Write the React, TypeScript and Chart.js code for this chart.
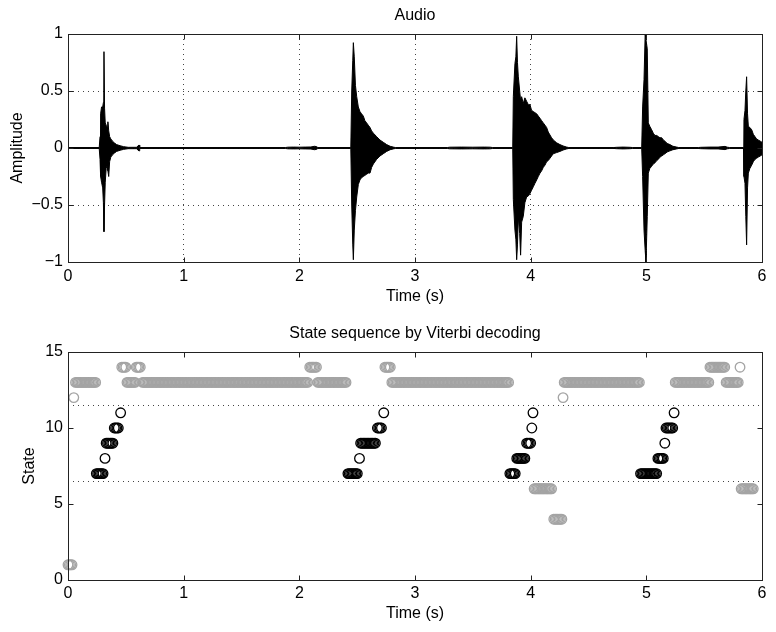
import React, { useEffect, useRef } from 'react';
import { Chart, registerables } from 'chart.js';

Chart.register(...registerables);

// ---------- axis ticks ----------
const timeTicks = [0, 1, 2, 3, 4, 5, 6];
const amplitudeTicks = [-1, -0.5, 0, 0.5, 1];
const stateTicks = [0, 5, 10, 15];
const stateBoundaries = [6.5, 11.5];

// ---------- audio waveform envelope ----------
const envTime = [
  0, 0.27, 0.277, 0.282, 0.29, 0.30, 0.306, 0.311, 0.316, 0.322, 0.33, 0.338, 0.345, 0.352, 0.36, 0.37, 0.385, 0.40, 0.42, 0.45, 0.48, 0.52, 0.595, 0.605, 0.615, 0.62,
  1.88, 1.90, 1.95, 2.00, 2.05, 2.10, 2.13, 2.15, 2.16,
  2.445, 2.453, 2.462, 2.467, 2.475, 2.485, 2.496, 2.51, 2.524, 2.538, 2.553, 2.567, 2.582, 2.596, 2.611, 2.625, 2.64, 2.668, 2.697, 2.726, 2.755, 2.785, 2.812, 2.83,
  3.28, 3.30, 3.40, 3.50, 3.60, 3.65, 3.67,
  3.845, 3.85, 3.864, 3.872, 3.879, 3.886, 3.893, 3.905, 3.913, 3.922, 3.936, 3.95, 3.965, 3.98, 3.994, 4.008, 4.023, 4.037, 4.052, 4.066, 4.081, 4.095, 4.109, 4.124, 4.138, 4.152, 4.167, 4.181, 4.196, 4.225, 4.253, 4.28, 4.311, 4.33,
  4.72, 4.74, 4.80, 4.86, 4.88,
  4.96, 4.968, 4.98, 4.99, 4.997, 5.008, 5.017, 5.03, 5.046, 5.06, 5.075, 5.09, 5.103, 5.118, 5.133, 5.147, 5.161, 5.18, 5.204, 5.23, 5.262, 5.28,
  5.45, 5.47, 5.55, 5.62, 5.68, 5.70, 5.72,
  5.84, 5.844, 5.853, 5.86, 5.867, 5.875, 5.882, 5.895, 5.911, 5.925, 5.939, 5.953, 5.968, 5.985, 6.0,
];
const envUpper = [
  0.004, 0.004, 0.10, 0.30, 0.36, 0.36, 0.40, 0.845, 0.35, 0.22, 0.20, 0.18, 0.23, 0.15, 0.10, 0.08, 0.06, 0.045, 0.03, 0.02, 0.012, 0.006, 0.006, 0.02, 0.025, 0.004,
  0.004, 0.007, 0.008, 0.007, 0.008, 0.009, 0.015, 0.012, 0.004,
  0.004, 0.5, 0.77, 0.924, 0.80, 0.55, 0.45, 0.36, 0.32, 0.30, 0.28, 0.24, 0.22, 0.20, 0.18, 0.15, 0.13, 0.10, 0.07, 0.05, 0.03, 0.015, 0.008, 0.004,
  0.004, 0.007, 0.008, 0.007, 0.008, 0.007, 0.004,
  0.004, 0.45, 0.74, 0.80, 0.98, 0.75, 0.63, 0.50, 0.42, 0.45, 0.39, 0.44, 0.41, 0.38, 0.38, 0.33, 0.32, 0.31, 0.30, 0.28, 0.26, 0.24, 0.22, 0.20, 0.18, 0.14, 0.114, 0.09, 0.07, 0.045, 0.03, 0.018, 0.008, 0.004,
  0.004, 0.006, 0.008, 0.006, 0.004,
  0.004, 0.36, 0.60, 1.0, 0.95, 0.87, 0.22, 0.19, 0.16, 0.13, 0.11, 0.11, 0.10, 0.09, 0.09, 0.07, 0.06, 0.04, 0.03, 0.015, 0.008, 0.004,
  0.004, 0.006, 0.008, 0.008, 0.014, 0.007, 0.004,
  0.004, 0.25, 0.33, 0.50, 0.625, 0.30, 0.19, 0.18, 0.16, 0.12, 0.10, 0.08, 0.07, 0.06, 0.05,
];
const envLower = [
  -0.004, -0.004, -0.10, -0.25, -0.30, -0.35, -0.48, -0.734, -0.50, -0.30, -0.18, -0.16, -0.20, -0.25, -0.12, -0.08, -0.06, -0.045, -0.03, -0.02, -0.012, -0.006, -0.006, -0.02, -0.025, -0.004,
  -0.004, -0.007, -0.008, -0.007, -0.008, -0.009, -0.015, -0.012, -0.004,
  -0.004, -0.5, -0.85, -0.98, -0.72, -0.55, -0.43, -0.32, -0.28, -0.26, -0.25, -0.24, -0.23, -0.22, -0.22, -0.17, -0.14, -0.10, -0.07, -0.05, -0.03, -0.015, -0.008, -0.004,
  -0.004, -0.007, -0.008, -0.007, -0.008, -0.007, -0.004,
  -0.004, -0.45, -0.72, -0.80, -0.98, -0.85, -0.60, -0.75, -0.94, -0.65, -0.60, -0.48, -0.43, -0.42, -0.40, -0.37, -0.34, -0.31, -0.28, -0.25, -0.22, -0.20, -0.17, -0.15, -0.12, -0.11, -0.09, -0.07, -0.05, -0.04, -0.03, -0.018, -0.008, -0.004,
  -0.004, -0.006, -0.008, -0.006, -0.004,
  -0.004, -0.25, -0.72, -0.90, -1.0, -0.60, -0.22, -0.18, -0.16, -0.14, -0.13, -0.11, -0.10, -0.08, -0.07, -0.06, -0.05, -0.035, -0.025, -0.015, -0.008, -0.004,
  -0.004, -0.006, -0.008, -0.008, -0.014, -0.007, -0.004,
  -0.004, -0.25, -0.31, -0.60, -0.85, -0.35, -0.22, -0.18, -0.15, -0.12, -0.10, -0.09, -0.08, -0.07, -0.06,
];

// ---------- Viterbi state sequence, as runs (start s, end s, state) ----------
const frameHop = 0.0116;
const runStart = [0.00, 0.05, 0.065, 0.245, 0.32, 0.33, 0.40, 0.455, 0.465, 0.51, 0.59, 0.645, 2.09, 2.16, 2.42, 2.52, 2.53, 2.675, 2.73, 2.74, 2.80, 3.82, 3.88, 3.965, 4.01, 4.02, 4.03, 4.20, 4.28, 4.29, 4.95, 5.10, 5.16, 5.17, 5.24, 5.25, 5.55, 5.69, 5.81, 5.82];
const runEnd = [0.035, 0.05, 0.24, 0.31, 0.32, 0.39, 0.445, 0.455, 0.50, 0.58, 0.63, 2.08, 2.15, 2.41, 2.51, 2.52, 2.665, 2.72, 2.73, 2.79, 3.81, 3.87, 3.955, 4.00, 4.01, 4.02, 4.19, 4.27, 4.28, 4.94, 5.09, 5.15, 5.16, 5.23, 5.24, 5.54, 5.68, 5.80, 5.81, 5.93];
const runState = [1, 12, 13, 7, 8, 9, 10, 11, 14, 13, 14, 13, 14, 13, 7, 8, 9, 10, 11, 14, 13, 7, 8, 9, 10, 11, 6, 4, 12, 13, 7, 8, 9, 10, 11, 13, 14, 13, 14, 6];
const noteStates = [7, 8, 9, 10, 11];

const FONT = "'Liberation Sans', Arial, Helvetica, sans-serif";
const fmt = (v: number) => String(v).replace('-', '\u2212');

function makeFramePlugin(hLines: number[]) {
  return {
    id: 'frame',
    beforeDatasetsDraw(chart: any) {
      const { ctx, chartArea: a } = chart;
      const ys = chart.scales.y;
      ctx.save();
      ctx.strokeStyle = '#444';
      ctx.lineWidth = 1;
      ctx.setLineDash([1, 4]);
      hLines.forEach((v) => {
        const py = Math.round(ys.getPixelForValue(v)) + 0.5;
        ctx.beginPath();
        ctx.moveTo(a.left, py);
        ctx.lineTo(a.right, py);
        ctx.stroke();
      });
      ctx.restore();
    },
    afterDraw(chart: any) {
      const { ctx, chartArea: a } = chart;
      const xs = chart.scales.x;
      const ys = chart.scales.y;
      const L = Math.round(a.left) + 0.5;
      const R = Math.round(a.right) + 0.5;
      const T = Math.round(a.top) + 0.5;
      const B = Math.round(a.bottom) + 0.5;
      const len = 5;
      ctx.save();
      ctx.strokeStyle = '#222';
      ctx.lineWidth = 1;
      ctx.setLineDash([]);
      ctx.strokeRect(L, T, R - L, B - T);
      ctx.beginPath();
      xs.ticks.forEach((t: any) => {
        if (t.value <= xs.min || t.value >= xs.max) return;
        const px = Math.round(xs.getPixelForValue(t.value)) + 0.5;
        ctx.moveTo(px, B);
        ctx.lineTo(px, B - len);
        ctx.moveTo(px, T);
        ctx.lineTo(px, T + len);
      });
      ys.ticks.forEach((t: any) => {
        if (t.value <= ys.min || t.value >= ys.max) return;
        const py = Math.round(ys.getPixelForValue(t.value)) + 0.5;
        ctx.moveTo(L, py);
        ctx.lineTo(L + len, py);
        ctx.moveTo(R, py);
        ctx.lineTo(R - len, py);
      });
      ctx.stroke();
      ctx.restore();
    },
  };
}

function expandRuns(filter: (s: number) => boolean) {
  const pts: { x: number; y: number }[] = [];
  runState.forEach((s, i) => {
    if (!filter(s)) return;
    for (let t = runStart[i]; t <= runEnd[i] + 1e-9; t += frameHop) {
      pts.push({ x: t, y: s });
    }
  });
  return pts;
}

export default function App() {
  const topRef = useRef<HTMLCanvasElement>(null);
  const botRef = useRef<HTMLCanvasElement>(null);

  useEffect(() => {
    document.body.style.margin = '0';
    Chart.defaults.font.family = FONT;
    Chart.defaults.font.size = 16;
    Chart.defaults.color = '#000';

    const edgeTransparent = (min: number, max: number) => (c: any) =>
      c.tick && (c.tick.value <= min || c.tick.value >= max) ? 'rgba(0,0,0,0)' : '#444';

    const top = new Chart(topRef.current as HTMLCanvasElement, {
      type: 'line',
      data: {
        datasets: [
          {
            data: envTime.map((t, i) => ({ x: t, y: envUpper[i] })),
            borderColor: '#000',
            borderWidth: 1,
            pointRadius: 0,
            fill: false,
            tension: 0,
          },
          {
            data: envTime.map((t, i) => ({ x: t, y: envLower[i] })),
            borderColor: '#000',
            borderWidth: 1,
            pointRadius: 0,
            backgroundColor: '#000',
            fill: '-1',
            tension: 0,
          },
        ],
      },
      options: {
        animation: false,
        responsive: false,
        maintainAspectRatio: false,
        devicePixelRatio: 1,
        events: [],
        layout: { padding: { left: 0, right: 14, top: 0, bottom: 0 } },
        plugins: {
          legend: { display: false },
          tooltip: { enabled: false },
          title: {
            display: true,
            text: 'Audio',
            fullSize: false,
            color: '#000',
            font: { size: 16, weight: 'normal', family: FONT },
            padding: { top: 6, bottom: 8.8 },
          },
        },
        scales: {
          x: {
            type: 'linear',
            min: 0,
            max: 6,
            afterBuildTicks: (s: any) => { s.ticks = timeTicks.map((v) => ({ value: v })); },
            afterFit: (s: any) => { s.height = 54; },
            grid: { display: true, drawTicks: false, lineWidth: 1, color: edgeTransparent(0, 6) },
            border: { display: false, dash: [1, 4] },
            ticks: { padding: 5, color: '#000', maxRotation: 0, autoSkip: false, font: { size: 16 }, callback: (v: any) => fmt(v) },
            title: { display: true, text: 'Time (s)', color: '#000', font: { size: 16 }, padding: { top: 0, bottom: 10 } },
          },
          y: {
            type: 'linear',
            min: -1,
            max: 1,
            afterBuildTicks: (s: any) => { s.ticks = amplitudeTicks.map((v) => ({ value: v })); },
            afterFit: (s: any) => { s.width = 68; },
            grid: { display: true, drawTicks: false, lineWidth: 1, color: edgeTransparent(-1, 1) },
            border: { display: false, dash: [1, 4] },
            ticks: { padding: 5, color: '#000', autoSkip: false, font: { size: 16 }, callback: (v: any) => fmt(v) },
            title: { display: true, text: 'Amplitude', color: '#000', font: { size: 16 }, padding: { top: 8, bottom: 0 } },
          },
        },
      } as any,
      plugins: [makeFramePlugin([])],
    });

    const bottom = new Chart(botRef.current as HTMLCanvasElement, {
      type: 'scatter',
      data: {
        datasets: [
          {
            data: expandRuns((s) => !noteStates.includes(s)),
            borderColor: '#a4a4a4',
            backgroundColor: 'rgba(0,0,0,0)',
            pointRadius: 4.8,
            borderWidth: 1.3,
            pointStyle: 'circle',
            clip: false,
          } as any,
          {
            data: expandRuns((s) => noteStates.includes(s)),
            borderColor: '#000',
            backgroundColor: 'rgba(0,0,0,0)',
            pointRadius: 4.8,
            borderWidth: 1.3,
            pointStyle: 'circle',
            clip: false,
          } as any,
        ],
      },
      options: {
        animation: false,
        responsive: false,
        maintainAspectRatio: false,
        devicePixelRatio: 1,
        events: [],
        layout: { padding: { left: 0, right: 14, top: 0, bottom: 0 } },
        plugins: {
          legend: { display: false },
          tooltip: { enabled: false },
          title: {
            display: true,
            text: 'State sequence by Viterbi decoding',
            fullSize: false,
            color: '#000',
            font: { size: 16, weight: 'normal', family: FONT },
            padding: { top: 7.7, bottom: 9.1 },
          },
        },
        scales: {
          x: {
            type: 'linear',
            min: 0,
            max: 6,
            afterBuildTicks: (s: any) => { s.ticks = timeTicks.map((v) => ({ value: v })); },
            afterFit: (s: any) => { s.height = 52; },
            grid: { display: false, drawTicks: false },
            border: { display: false },
            ticks: { padding: 4, color: '#000', maxRotation: 0, autoSkip: false, font: { size: 16 }, callback: (v: any) => fmt(v) },
            title: { display: true, text: 'Time (s)', color: '#000', font: { size: 16 }, padding: { top: 0, bottom: 9 } },
          },
          y: {
            type: 'linear',
            min: 0,
            max: 15,
            afterBuildTicks: (s: any) => { s.ticks = stateTicks.map((v) => ({ value: v })); },
            afterFit: (s: any) => { s.width = 68; },
            grid: { display: false, drawTicks: false },
            border: { display: false },
            ticks: { padding: 5, color: '#000', autoSkip: false, font: { size: 16 }, callback: (v: any) => fmt(v) },
            title: { display: true, text: 'State', color: '#000', font: { size: 16 }, padding: { top: 20, bottom: 0 } },
          },
        },
      } as any,
      plugins: [makeFramePlugin(stateBoundaries)],
    });

    return () => {
      top.destroy();
      bottom.destroy();
    };
  }, []);

  return (
    <div style={{ position: 'absolute', left: 0, top: 0, width: 776, height: 632, background: '#fff' }}>
      <canvas ref={topRef} width={776} height={316} style={{ display: 'block', width: 776, height: 316 }} />
      <canvas ref={botRef} width={776} height={316} style={{ display: 'block', width: 776, height: 316 }} />
    </div>
  );
}
